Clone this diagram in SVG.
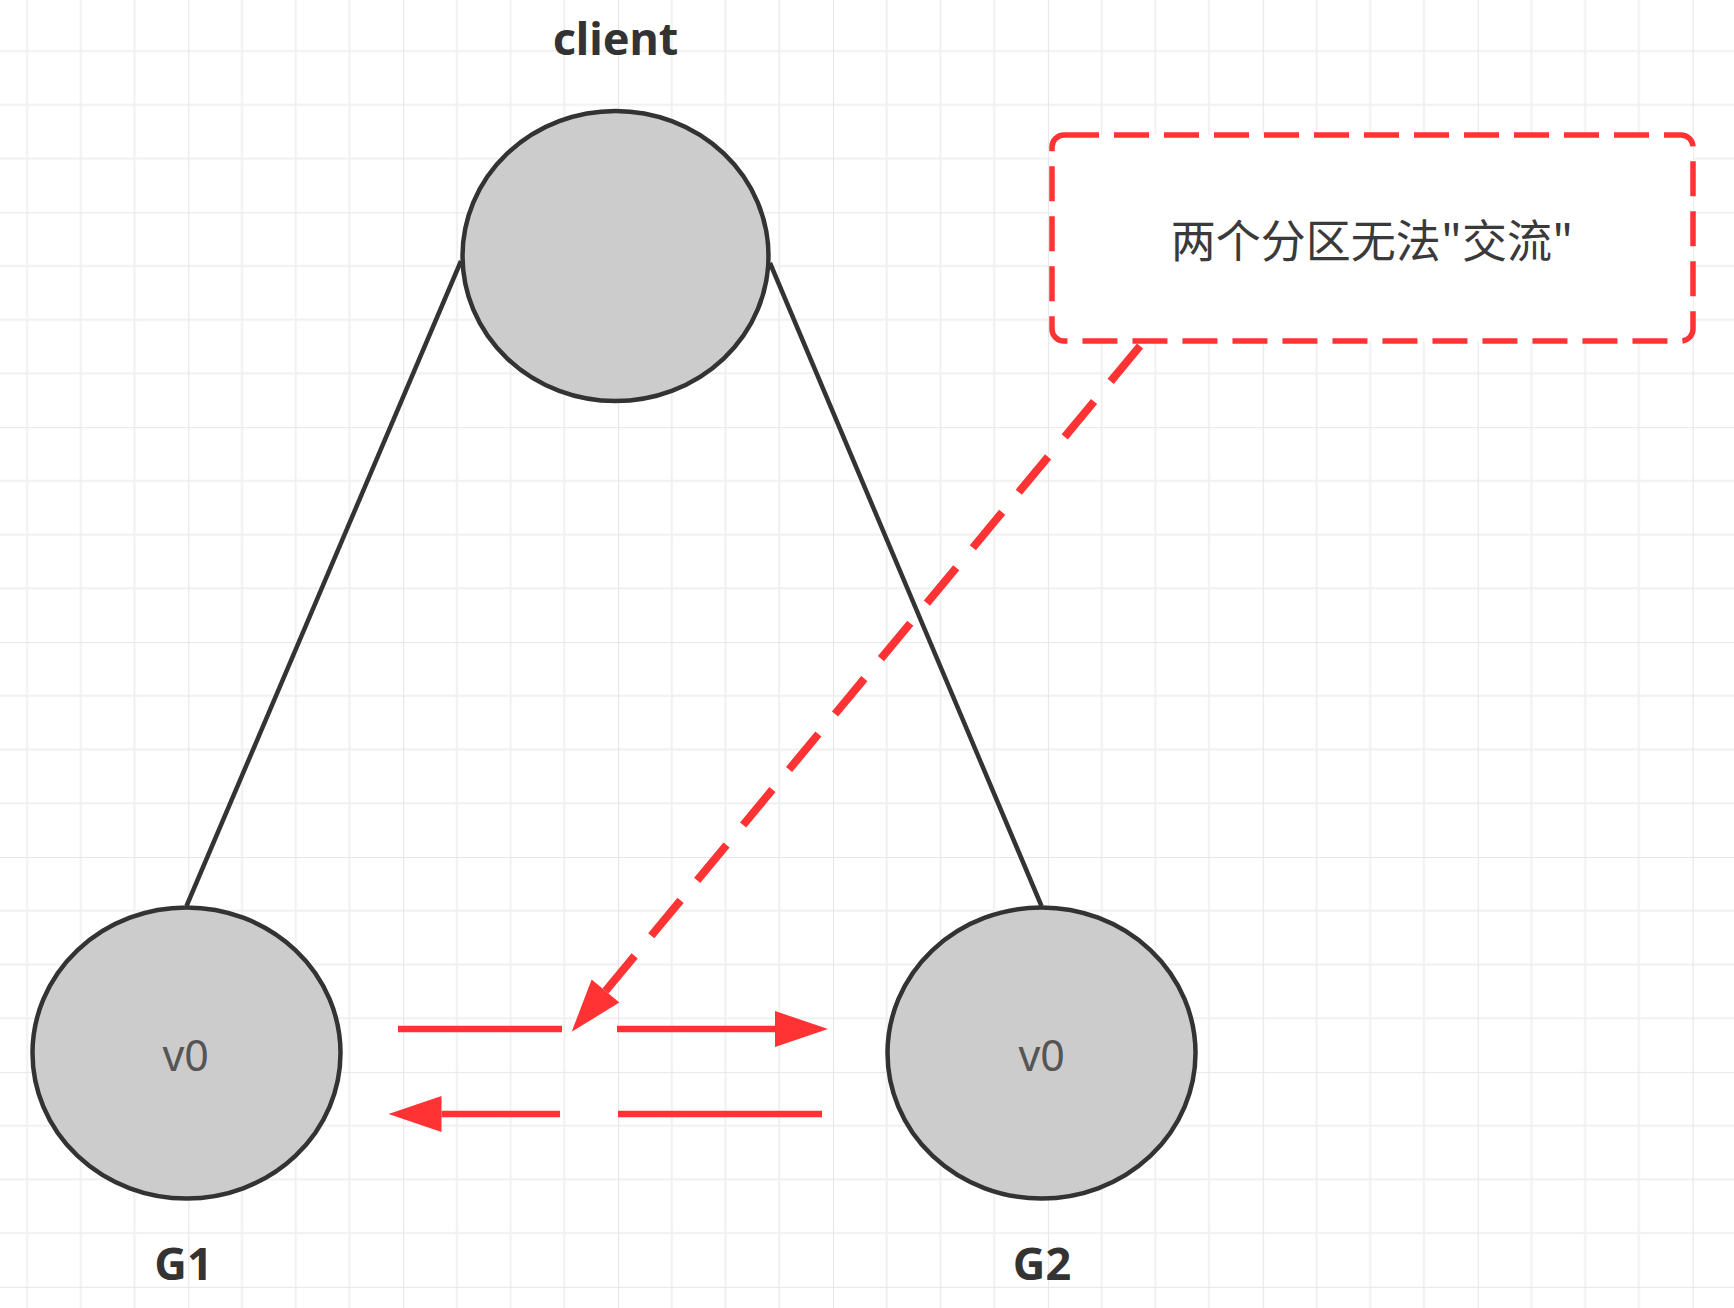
<svg xmlns="http://www.w3.org/2000/svg" width="1734" height="1308" viewBox="0 0 1734 1308">
  <style>
    .node { fill: #cccccc; stroke: #333333; stroke-width: 4.5; }
    .edge { stroke: #333333; stroke-width: 4.5; fill: none; }
    .red { stroke: #ff3333; stroke-width: 6.5; fill: none; }
    .reddash { stroke: #ff3333; stroke-width: 8; fill: none; stroke-dasharray: 46 26; }
    .inner { font-family: "Noto Sans", "Open Sans", sans-serif; font-size: 43px; fill: #555555; text-anchor: middle; }
    .title { font-family: "Noto Sans", "Open Sans", sans-serif; font-size: 45px; font-weight: bold; fill: #333333; text-anchor: middle; }
    .note { font-family: "Noto Sans CJK SC", "Noto Sans", sans-serif; font-size: 45px; fill: #3a3a3a; text-anchor: middle; dominant-baseline: central; }
  </style>
  <defs>
    <pattern id="grid" patternUnits="userSpaceOnUse" x="188.3" y="212.3" width="214.9" height="214.9">
      <g stroke="#f0f0f0" stroke-width="2">
        <line x1="53.72" y1="0" x2="53.72" y2="214.9"/>
        <line x1="107.45" y1="0" x2="107.45" y2="214.9"/>
        <line x1="161.17" y1="0" x2="161.17" y2="214.9"/>
        <line x1="0" y1="53.72" x2="214.9" y2="53.72"/>
        <line x1="0" y1="107.45" x2="214.9" y2="107.45"/>
        <line x1="0" y1="161.17" x2="214.9" y2="161.17"/>
      </g>
      <g stroke="#e6e6e6" stroke-width="2.2">
        <line x1="0" y1="0" x2="0" y2="214.9"/>
        <line x1="0" y1="0" x2="214.9" y2="0"/>
      </g>
    </pattern>
    <marker id="arrow" markerUnits="userSpaceOnUse" markerWidth="56" markerHeight="40" refX="0" refY="19" orient="auto" overflow="visible">
      <path d="M0,1 L53,19 L0,37 Z" fill="#ff3333" stroke="none"/>
    </marker>
  </defs>

  <rect x="0" y="0" width="1734" height="1308" fill="#ffffff"/>
  <rect x="0" y="0" width="1734" height="1308" fill="url(#grid)"/>

  <g id="connectors">
    <line class="edge" x1="461" y1="261" x2="186.5" y2="906"/>
    <line class="edge" x1="770" y1="263" x2="1041.5" y2="906"/>
    <path class="reddash" d="M1140,346 L605.5,991" marker-end="url(#arrow)"/>
    <line class="red" x1="398" y1="1029" x2="562" y2="1029"/>
    <path class="red" d="M617,1029 L775,1029" marker-end="url(#arrow)"/>
    <line class="red" x1="618" y1="1114" x2="822" y2="1114"/>
    <path class="red" d="M560,1114 L441.5,1114" marker-end="url(#arrow)"/>
  </g>

  <g id="client">
    <ellipse class="node" cx="615.5" cy="256" rx="153" ry="145"/>
    <text class="title" x="615.5" y="55">client</text>
  </g>

  <g id="G1">
    <ellipse class="node" cx="186.5" cy="1053" rx="154" ry="145.5"/>
    <text class="inner" x="185.7" y="1070.5">v0</text>
    <text class="title" x="183.5" y="1280">G1</text>
  </g>

  <g id="G2">
    <ellipse class="node" cx="1041.5" cy="1053" rx="154" ry="145.5"/>
    <text class="inner" x="1041.7" y="1070.5">v0</text>
    <text class="title" x="1042" y="1280">G2</text>
  </g>

  <g id="note">
    <rect x="1052" y="135" width="641" height="206" rx="12" ry="12" fill="#ffffff" stroke="#ff3333" stroke-width="5.5" stroke-dasharray="35 15"/>
    <text class="note" x="1372" y="238">两个分区无法"交流"</text>
  </g>
</svg>
